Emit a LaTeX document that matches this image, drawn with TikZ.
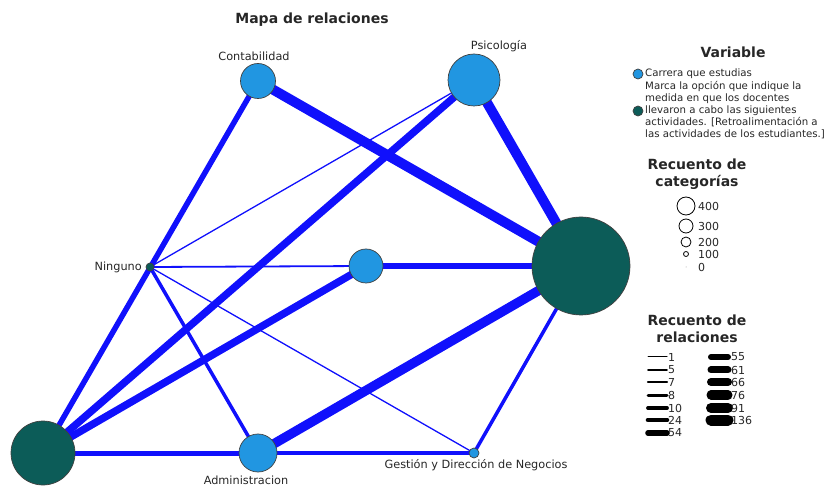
\documentclass[tikz,border=0pt]{standalone}
\usepackage{fontspec}
\setmainfont{DejaVu Sans}
\begin{document}
\begin{tikzpicture}[x=1pt,y=-1pt,
  edge/.style={draw=edgeblue,line width=#1},
  catnode/.style={circle,draw=black!75,line width=0.7pt,fill=nodeblue,inner sep=0pt,minimum size=#1},
  varnode/.style={circle,draw=black!75,line width=0.7pt,fill=nodeteal,inner sep=0pt,minimum size=#1},
  lbl/.style={font=\fontsize{11.3}{13}\selectfont,text=black!85,inner sep=0pt},
  head/.style={font=\fontsize{14}{17}\selectfont\bfseries,text=black!85,inner sep=0pt,align=center},
  leg/.style={font=\fontsize{10.2}{12}\selectfont,text=black!85,inner sep=0pt},
  num/.style={font=\fontsize{11}{12}\selectfont,text=black!85,inner sep=0pt},
  legline/.style={draw=black,line cap=round,line width=#1}
]
\definecolor{edgeblue}{RGB}{16,16,252}
\definecolor{nodeblue}{RGB}{33,150,225}
\definecolor{nodeteal}{RGB}{12,92,88}
\useasboundingbox (0,0) rectangle (825,486);

% node positions
\coordinate (pC) at (258,81);
\coordinate (pP) at (474,80);
\coordinate (pR) at (581,266);
\coordinate (pM) at (366,266);
\coordinate (pN) at (150,267);
\coordinate (pL) at (43,453);
\coordinate (pA) at (258,453);
\coordinate (pG) at (474,453);

% edges
\draw[edge=10pt] (pC) -- (pR);
\draw[edge=5.5pt] (pC) -- (pL);
\draw[edge=10pt] (pP) -- (pR);
\draw[edge=7.5pt] (pP) -- (pL);
\draw[edge=1.3pt] (pP) -- (pN);
\draw[edge=6pt] (pM) -- (pR);
\draw[edge=7.5pt] (pM) -- (pL);
\draw[edge=1.8pt] (pM) -- (pN);
\draw[edge=3.5pt] (pN) -- (pA);
\draw[edge=1.3pt] (pN) -- (pG);
\draw[edge=5pt] (pL) -- (pA);
\draw[edge=3.5pt] (pA) -- (pG);
\draw[edge=9.5pt] (pA) -- (pR);
\draw[edge=3.5pt] (pG) -- (pR);

% nodes
\node[catnode=35pt] (C) at (pC) {};
\node[catnode=52pt] (P) at (pP) {};
\node[varnode=98pt] (R) at (pR) {};
\node[catnode=34pt] (M) at (pM) {};
\node[varnode=8pt] (N) at (pN) {};
\node[varnode=64pt] (L) at (pL) {};
\node[catnode=38pt] (A) at (pA) {};
\node[catnode=10pt] (G) at (pG) {};

% labels
\node[lbl] (tC) at (254,56) {Contabilidad};
\node[lbl] (tP) at (499,46) {Psicología};
\node[lbl,anchor=east] (tN) at (142,267) {Ninguno};
\node[lbl] (tA) at (246,480) {Administracion};
\node[lbl] (tG) at (476,465) {Gestión y Dirección de Negocios};

% title
\node[head] (title) at (312,20) {Mapa de relaciones};

% legend: variable
\node[head] (hv) at (733,52) {Variable};
\node[catnode=10pt] (lb) at (638,74) {};
\node[leg,anchor=west] (tb) at (645,74) {Carrera que estudias};
\node[varnode=10pt] (lt) at (638,111) {};
\node[leg,anchor=north west,align=left] (tt) at (645,81) {Marca la opción que indique la\\medida en que los docentes\\llevaron a cabo las siguientes\\actividades. [Retroalimentación a\\las actividades de los estudiantes.]};

% legend: categories
\node[head] (hc) at (697,174) {Recuento de\\categorías};
\node[circle,draw=black,line width=0.8pt,minimum size=18pt,inner sep=0pt] (c4) at (686,206) {};
\node[circle,draw=black,line width=0.8pt,minimum size=14pt,inner sep=0pt] (c3) at (686,226) {};
\node[circle,draw=black,line width=0.8pt,minimum size=10pt,inner sep=0pt] (c2) at (686,242) {};
\node[circle,draw=black,line width=0.8pt,minimum size=5pt,inner sep=0pt] (c1) at (686,254) {};
\node[circle,fill=black!40,minimum size=1pt,inner sep=0pt] (c0) at (686,267) {};
\node[num,anchor=west] at (698,206) {400};
\node[num,anchor=west] at (698,226) {300};
\node[num,anchor=west] at (698,242) {200};
\node[num,anchor=west] at (698,254) {100};
\node[num,anchor=west] at (698,267) {0};

% legend: relations
\node[head] (hr) at (697,329) {Recuento de\\relaciones};
\foreach \y/\w/\t in {357/1/1,370/1.6/5,382/2.2/7,395/3/8,408/3.8/10,420/4.6/24,433/5.6/54}{
  \coordinate (a\t) at (648,\y);
  \coordinate (b\t) at (667,\y);
  \draw[legline=\w pt] (a\t) -- (b\t);
  \node[num,anchor=west] at (668,\y) {\t};
}
\foreach \y/\w/\t in {357/6/55,370/7/61,382/8/66,395/9/76,408/10/91,420/11/136}{
  \coordinate (a\t) at (711,\y);
  \coordinate (b\t) at (728,\y);
  \draw[legline=\w pt] (a\t) -- (b\t);
  \node[num,anchor=west] at (731,\y) {\t};
}
\end{tikzpicture}
\end{document}
